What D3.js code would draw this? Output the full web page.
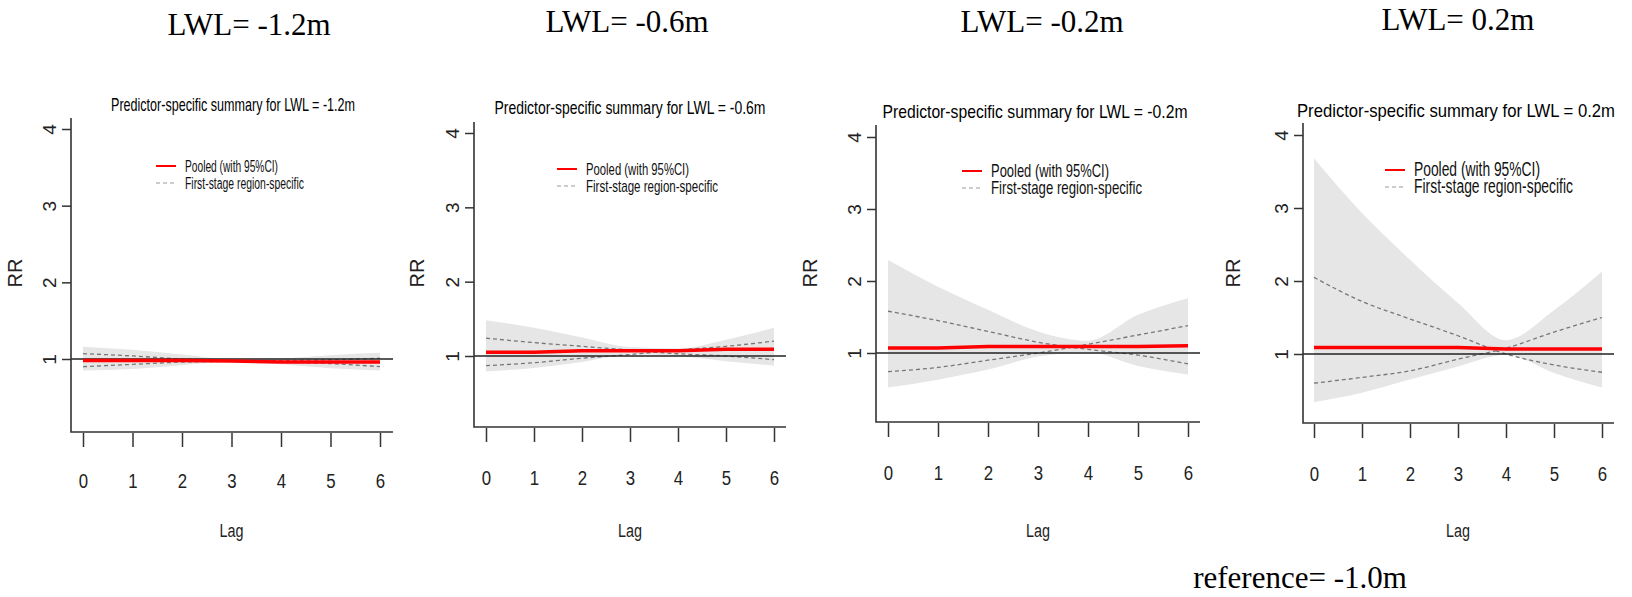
<!DOCTYPE html>
<html>
<head>
<meta charset="utf-8">
<script src="https://cdn.jsdelivr.net/npm/d3@7"></script>
<style>
  body { margin: 0; background: #fff; }
  text { font-family: "Liberation Sans Narrow", "Arial Narrow", "Liberation Sans", sans-serif; }
  .big { font-family: "Liberation Serif", "Times New Roman", serif; }
</style>
</head>
<body>
<svg id="chart" width="1632" height="597"></svg>
<script>
// data
var lags = [0, 1, 2, 3, 4, 5, 6];
var lwlLabels = ['-1.2m', '-0.6m', '-0.2m', '0.2m'];
var yTicks = [1, 2, 3, 4];

var pooledRR = [
    [0.98, 0.98, 0.98, 0.975, 0.96, 0.96, 0.96],
    [1.05, 1.05, 1.07, 1.07, 1.07, 1.09, 1.09],
    [1.07, 1.07, 1.09, 1.09, 1.09, 1.09, 1.10],
    [1.09, 1.09, 1.09, 1.09, 1.07, 1.07, 1.07]
];
var ciLow = [
    [0.85, 0.87, 0.92, 0.96, 0.93, 0.88, 0.85],
    [0.79, 0.84, 0.92, 1.02, 1.00, 0.93, 0.87],
    [0.52, 0.63, 0.77, 0.95, 1.01, 0.82, 0.70],
    [0.34, 0.47, 0.65, 0.83, 0.99, 0.74, 0.54]
];
var ciHigh = [
    [1.16, 1.12, 1.06, 1.00, 1.01, 1.05, 1.08],
    [1.48, 1.38, 1.25, 1.12, 1.10, 1.22, 1.38],
    [2.29, 1.92, 1.60, 1.30, 1.17, 1.53, 1.76],
    [3.68, 2.93, 2.29, 1.70, 1.19, 1.60, 2.13]
];
var regionA = [
    [1.07, 1.04, 1.00, 0.98, 0.96, 0.94, 0.90],
    [1.24, 1.18, 1.13, 1.08, 1.03, 1.00, 0.95],
    [1.58, 1.45, 1.30, 1.15, 1.05, 0.97, 0.85],
    [2.05, 1.72, 1.48, 1.25, 1.00, 0.85, 0.75]
];
var regionB = [
    [0.90, 0.93, 0.96, 0.97, 0.98, 0.99, 1.01],
    [0.87, 0.91, 0.97, 1.02, 1.08, 1.13, 1.20],
    [0.74, 0.80, 0.90, 1.00, 1.12, 1.25, 1.38],
    [0.60, 0.68, 0.77, 0.93, 1.08, 1.30, 1.50]
];

// panel frames (pixel layout of each pasted plot)
var frames = [
    { ax: 71,  top: 118, y4: 129, y1: 359, bottom: 432, x0: 83,  x6: 380,  right: 393,  titleX: 233,  titleY: 111, titleW: 244, legX: 156, legY: 166, legF: 16, legW: [93, 119],  tickY: 481, rrX: 22,   bigX: 249,  bigY: 35 },
    { ax: 474, top: 122, y4: 133, y1: 356, bottom: 427, x0: 486, x6: 774,  right: 786,  titleX: 630,  titleY: 114, titleW: 271, legX: 557, legY: 169, legF: 17, legW: [103, 132], tickY: 478, rrX: 424,  bigX: 627,  bigY: 32 },
    { ax: 876, top: 125, y4: 137, y1: 353, bottom: 422, x0: 888, x6: 1188, right: 1200, titleX: 1035, titleY: 118, titleW: 305, legX: 962, legY: 171, legF: 19, legW: [118, 151], tickY: 473, rrX: 817,  bigX: 1042, bigY: 32 },
    { ax: 1303, top: 123, y4: 135, y1: 354, bottom: 423, x0: 1314, x6: 1602, right: 1614, titleX: 1456, titleY: 117, titleW: 318, legX: 1385, legY: 170, legF: 20, legW: [126, 159], tickY: 474, rrX: 1240, bigX: 1458, bigY: 30 }
];

var svg = d3.select('#chart');

frames.forEach(function (f, p) {
    var x = d3.scaleLinear().domain([0, 6]).range([f.x0, f.x6]);
    var y = d3.scaleLinear().domain([1, 4]).range([f.y1, f.y4]);
    var g = svg.append('g');

    // big heading above each plot
    svg.append('text').attr('class', 'big')
        .attr('x', f.bigX).attr('y', f.bigY)
        .attr('text-anchor', 'middle').attr('font-size', 31)
        .text('LWL= ' + lwlLabels[p]);

    g.append('text')
        .attr('x', f.titleX).attr('y', f.titleY)
        .attr('text-anchor', 'middle').attr('font-size', 19)
        .attr('textLength', f.titleW).attr('lengthAdjust', 'spacingAndGlyphs')
        .text('Predictor-specific summary for LWL = ' + lwlLabels[p]);

    // confidence band
    var area = d3.area().curve(d3.curveMonotoneX)
        .x(function (d) { return x(d); })
        .y0(function (d, i) { return y(ciLow[p][i]); })
        .y1(function (d, i) { return y(ciHigh[p][i]); });
    g.append('path').datum(lags).attr('d', area).attr('fill', '#e6e6e6');

    // region-specific curves
    [regionA[p], regionB[p]].forEach(function (vals) {
        var line = d3.line().curve(d3.curveMonotoneX)
            .x(function (d) { return x(d); })
            .y(function (d, i) { return y(vals[i]); });
        g.append('path').datum(lags).attr('d', line)
            .attr('fill', 'none').attr('stroke', '#777')
            .attr('stroke-width', 1.3).attr('stroke-dasharray', '4,3');
    });

    // reference line at RR = 1
    g.append('line')
        .attr('x1', f.ax).attr('x2', f.right)
        .attr('y1', y(1)).attr('y2', y(1))
        .attr('stroke', '#222').attr('stroke-width', 1.5);

    // pooled estimate
    var pooled = d3.line()
        .x(function (d) { return x(d); })
        .y(function (d, i) { return y(pooledRR[p][i]); });
    g.append('path').datum(lags).attr('d', pooled)
        .attr('fill', 'none').attr('stroke', '#ff0000').attr('stroke-width', 3.5);

    // axes frame (R style L box)
    g.append('path')
        .attr('d', 'M' + f.ax + ',' + f.top + 'V' + f.bottom + 'H' + f.right)
        .attr('fill', 'none').attr('stroke', '#333').attr('stroke-width', 1.6);

    var yAxis = d3.axisLeft(y).tickValues(yTicks).tickSize(9).tickPadding(6).tickFormat(d3.format('d'));
    var ya = g.append('g').attr('transform', 'translate(' + f.ax + ',0)').call(yAxis);
    ya.select('.domain').remove();
    ya.selectAll('line').attr('stroke', '#333').attr('stroke-width', 1.5);
    ya.selectAll('text').attr('font-size', 19).attr('fill', '#222')
        .attr('text-anchor', 'middle').attr('dy', null)
        .attr('transform', 'translate(-22,0) rotate(-90)')
        .attr('x', 0).attr('y', 0)
        .attr('dominant-baseline', 'central');

    var xAxis = d3.axisBottom(x).tickValues(lags).tickSize(14).tickPadding(0).tickFormat(d3.format('d'));
    var xa = g.append('g').attr('transform', 'translate(0,' + (f.bottom + 1) + ')').call(xAxis);
    xa.select('.domain').remove();
    xa.selectAll('line').attr('stroke', '#333').attr('stroke-width', 1.5);
    xa.selectAll('text').attr('font-size', 21).attr('fill', '#222')
        .attr('y', f.tickY - f.bottom - 1).attr('dy', '0.35em')
        .attr('transform', 'scale(0.8,1)');

    g.append('text')
        .attr('transform', 'translate(' + f.rrX + ',' + 273 + ') rotate(-90)')
        .attr('text-anchor', 'middle').attr('font-family', 'Liberation Sans, Arial, sans-serif')
        .attr('font-size', 20).attr('fill', '#222').text('RR');

    g.append('text')
        .attr('x', (f.x0 + f.x6) / 2).attr('y', 537)
        .attr('text-anchor', 'middle').attr('font-size', 18).attr('fill', '#222')
        .attr('textLength', 24).attr('lengthAdjust', 'spacingAndGlyphs').text('Lag');

    // legend
    g.append('line').attr('x1', f.legX).attr('x2', f.legX + 20)
        .attr('y1', f.legY).attr('y2', f.legY)
        .attr('stroke', '#ff0000').attr('stroke-width', 2);
    g.append('line').attr('x1', f.legX).attr('x2', f.legX + 20)
        .attr('y1', f.legY + 17).attr('y2', f.legY + 17)
        .attr('stroke', '#999').attr('stroke-width', 1.2).attr('stroke-dasharray', '4,3');
    g.append('text').attr('x', f.legX + 29).attr('y', f.legY + 6)
        .attr('font-size', f.legF).attr('fill', '#111')
        .attr('textLength', f.legW[0]).attr('lengthAdjust', 'spacingAndGlyphs')
        .text('Pooled (with 95%CI)');
    g.append('text').attr('x', f.legX + 29).attr('y', f.legY + 23)
        .attr('font-size', f.legF).attr('fill', '#111')
        .attr('textLength', f.legW[1]).attr('lengthAdjust', 'spacingAndGlyphs')
        .text('First-stage region-specific');
});

svg.append('text').attr('class', 'big')
    .attr('x', 1300).attr('y', 588)
    .attr('text-anchor', 'middle').attr('font-size', 31)
    .text('reference= -1.0m');
</script>
</body>
</html>
